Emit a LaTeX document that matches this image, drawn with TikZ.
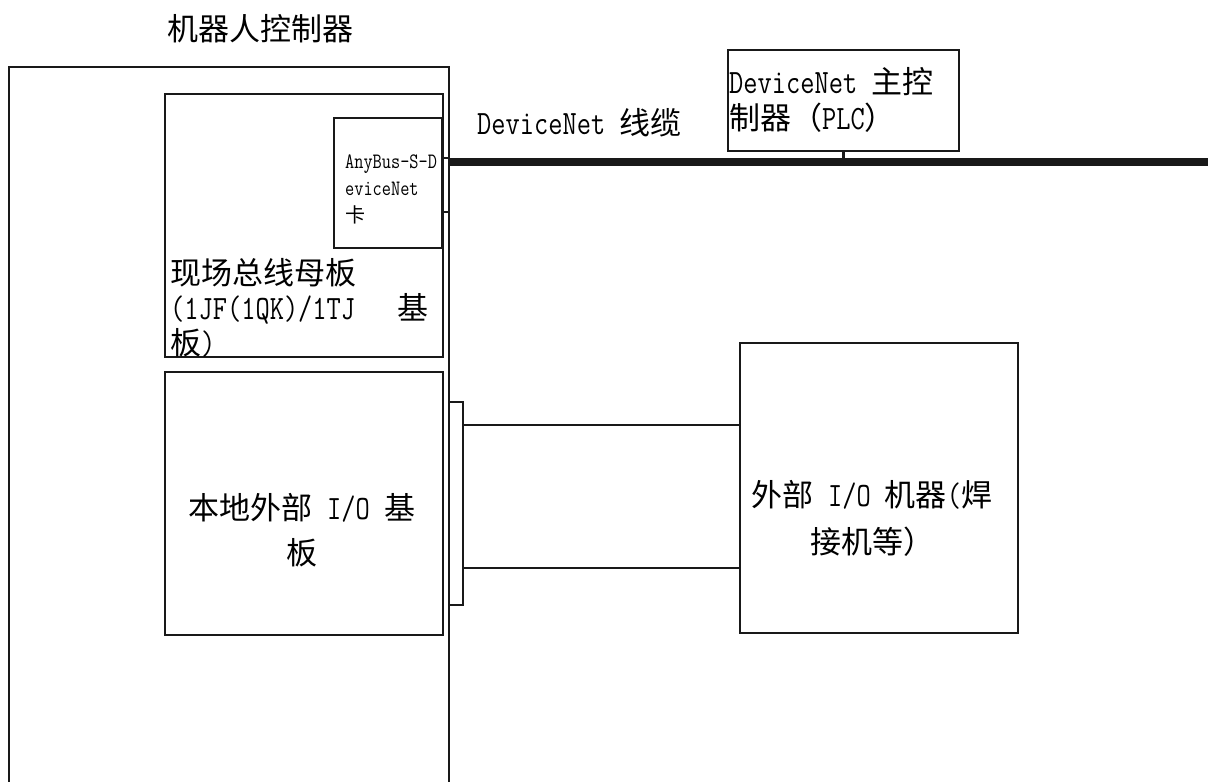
\documentclass[tikz,border=0pt]{standalone}
\usepackage{fontspec}
\setmainfont[Scale=1.1,FakeStretch=0.81]{Latin Modern Mono}
\newfontfamily\cjk{Noto Sans CJK SC}
\begin{document}
\begin{tikzpicture}[x=1pt,y=-1pt,
  box/.style={draw=black!90, line width=2.2pt, rectangle, inner sep=0pt, fill=white},
  thinbox/.style={draw=black!90, line width=1.6pt, rectangle, inner sep=0pt, fill=white},
  lbl/.style={inner sep=0pt, font=\fontsize{31}{35}\selectfont},
  wire/.style={draw=black!90, line width=2.2pt},
  cable/.style={draw=black!90, line width=8pt}]
\useasboundingbox (0,0) rectangle (1208,782);
\clip (0,0) rectangle (1208,782);
\fill[white] (0,0) rectangle (1208,782);
% boxes
\node[box, minimum width=440pt, minimum height=733pt] (ctrl) at (229,433.5) {};
\node[box, minimum width=278pt, minimum height=263pt] (fbus) at (304,225.5) {};
\node[box, minimum width=108pt, minimum height=130pt] (card) at (388,183) {};
\node[thinbox, minimum width=6pt, minimum height=54pt] (cstrip) at (446,185) {};
\node[box, minimum width=278pt, minimum height=263pt] (lio) at (304,503.5) {};
\node[thinbox, minimum width=14pt, minimum height=203pt] (iostrip) at (456,503.5) {};
\node[box, minimum width=278pt, minimum height=290pt] (ext) at (879,488) {};
\node[box, minimum width=231pt, minimum height=101pt] (plc) at (843.5,100.5) {};
% cable
\coordinate (cend) at (1210,162);
\draw[cable] (cstrip.east |- 0,162) -- (cend);
\draw[wire] (plc.south) -- (plc.south |- 0,158);
% I/O wires
\draw[wire] (iostrip.east |- 0,425) -- (ext.west |- 0,425);
\draw[wire] (iostrip.east |- 0,568) -- (ext.west |- 0,568);
% texts
\node[lbl, anchor=west] (title) at (167,29) {\cjk 机器人控制器};
\node[lbl, anchor=west] (cablelbl) at (477,123) {DeviceNet {\cjk 线缆}};
\node[lbl, anchor=west, align=left, font=\fontsize{31}{36}\selectfont] (plctxt) at (729,100) {DeviceNet {\cjk 主控}\\{\cjk 制器（}PLC{\cjk ）}};
\node[lbl, anchor=west, align=left, font=\fontsize{20}{27}\selectfont] (cardtxt) at (345,189) {AnyBus-S-D\\eviceNet\\{\cjk 卡}};
\node[lbl, anchor=west, align=left, font=\fontsize{31}{35}\selectfont] (fbustxt) at (170,308) {{\cjk 现场总线母板}\\(1JF(1QK)/1TJ\ \ \ {\cjk 基}\\{\cjk 板})};
\node[lbl, align=center, font=\fontsize{31}{45}\selectfont] (liotxt) at (302,530) {{\cjk 本地外部} I/O {\cjk 基}\\{\cjk 板}};
\node[lbl, align=center, font=\fontsize{31}{47}\selectfont] (exttxt) at (872,518) {{\cjk 外部} I/O {\cjk 机器}({\cjk 焊}\\{\cjk 接机等）}};
\end{tikzpicture}
\end{document}
